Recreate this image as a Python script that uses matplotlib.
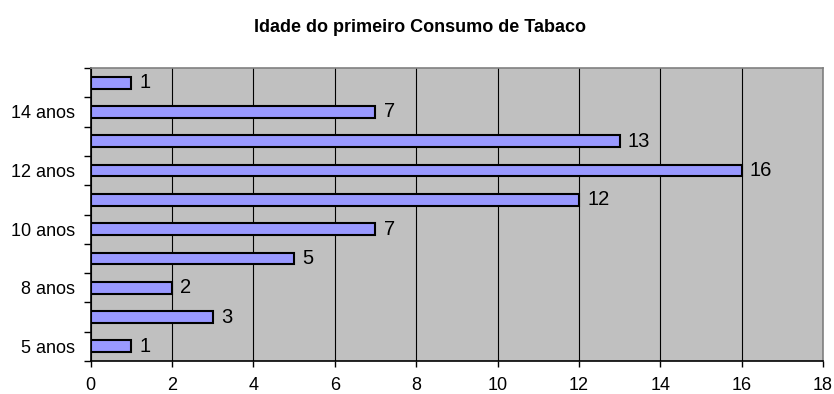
import numpy as np
import matplotlib
matplotlib.use("Agg")
import matplotlib.pyplot as plt

plt.rcParams['font.family'] = ['Liberation Sans', 'DejaVu Sans']

# data (bottom to top)
idades = ["5 anos", "7 anos", "8 anos", "9 anos", "10 anos",
          "11 anos", "12 anos", "13 anos", "14 anos", "15 anos"]
contagens = [1, 3, 2, 5, 7, 12, 16, 13, 7, 1]
xticks = list(range(0, 19, 2))

fig = plt.figure(figsize=(8.34, 3.94), dpi=100)
ax = fig.add_axes([90.7/834, 1 - 361/394, (823 - 90.7)/834, (361 - 68)/394])

y = np.arange(len(idades))
ax.set_facecolor("#C0C0C0")
ax.barh(y, contagens, height=0.4, color="#9999FF", edgecolor="black",
        linewidth=1.5, zorder=3)

for yi, v in zip(y, contagens):
    ax.annotate(str(v), (v, yi), xytext=(6, 0), textcoords="offset points",
                va="center", ha="left", fontsize=14.5, zorder=4)

ax.set_xlim(0, 18)
ax.set_ylim(-0.5, len(idades) - 0.5)
ax.set_xticks(xticks)
ax.set_xticklabels([str(t) for t in xticks], fontsize=13)
ax.tick_params(axis="x", length=4, width=1, pad=7.5, direction="out")
ax.grid(axis="x", color="black", linewidth=0.8, zorder=1)

# labels on every other category, tick marks on category boundaries
ax.set_yticks(y[::2])
ax.set_yticklabels(idades[::2], fontsize=13)
ax.tick_params(axis="y", which="major", length=0, pad=11)
ax.set_yticks(np.arange(-0.5, len(idades)), minor=True)
ax.tick_params(axis="y", which="minor", length=5, width=1, direction="out")

for s in ["top", "right"]:
    ax.spines[s].set_color("#808080")
    ax.spines[s].set_linewidth(1.2)
for s in ["left", "bottom"]:
    ax.spines[s].set_color("black")
    ax.spines[s].set_linewidth(1.2)

fig.text((247 + 592) / 2 / 834, 1 - 28/394, "Idade do primeiro Consumo de Tabaco",
         ha="center", va="center", fontsize=13, fontweight="bold")

fig.savefig("out.png", dpi=100, facecolor="white")
